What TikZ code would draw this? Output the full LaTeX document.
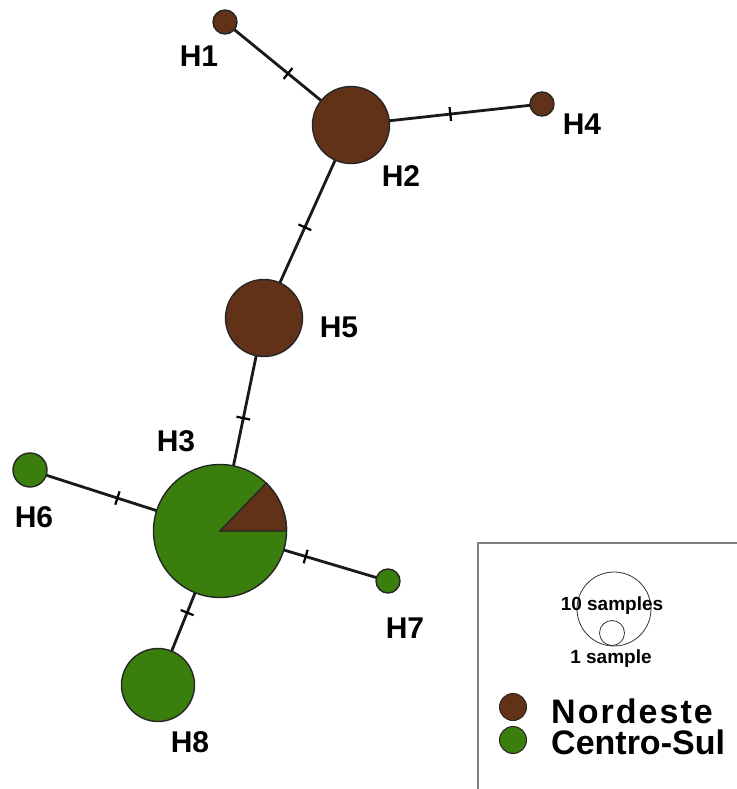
\documentclass[tikz,border=0pt]{standalone}
\usepackage{fontspec}
\setmainfont{Liberation Sans}
\usetikzlibrary{backgrounds}
\definecolor{nordeste}{RGB}{97,50,24}
\definecolor{centrosul}{RGB}{58,126,14}
\definecolor{framegray}{RGB}{128,128,128}
\tikzset{
  hap/.style={circle, draw=black!85, line width=1.4pt, inner sep=0pt, minimum size=#1},
  ne/.style={fill=nordeste},
  cs/.style={fill=centrosul},
  link/.style={line width=2.8pt, black!90},
  mutation/.style={sloped, draw=black, line width=2.2pt, inner sep=0pt,
                   minimum width=0pt, minimum height=14pt, outer sep=0pt},
  hlabel/.style={font=\bfseries\fontsize{30}{30}\selectfont, inner sep=0pt},
  legtext/.style={font=\bfseries\fontsize{34}{34}\selectfont, inner sep=0pt, anchor=west},
  smalltext/.style={font=\bfseries\fontsize{19}{19}\selectfont, inner sep=0pt}
}
\begin{document}
\begin{tikzpicture}[x=1pt, y=-1pt]
\useasboundingbox (0,0) rectangle (736,789);

% haplotype circles
\node[hap=24pt, ne] (H1) at (225,22) {};
\node[hap=77pt, ne] (H2) at (351,125) {};
\node[hap=24pt, ne] (H4) at (542,104) {};
\node[hap=77pt, ne] (H5) at (264,318) {};
\node[hap=133pt, cs] (H3) at (220,531) {};
\node[hap=34pt, cs] (H6) at (30,470) {};
\node[hap=24pt, cs] (H7) at (388,581) {};
\node[hap=73pt, cs] (H8) at (158,685) {};

% Nordeste share of H3 (y axis points down, so the wedge opens at negative angles)
\filldraw[fill=nordeste, draw=black!85, line width=1.4pt]
  (H3.center) -- ++(0:66.5) arc[start angle=0, end angle=-46, radius=66.5] -- cycle;

% network links with one mutation step each
\begin{scope}[on background layer]
\draw[link] (H1.center) -- node[mutation, pos=0.5] {} (H2.center);
\draw[link] (H2.center) -- node[mutation, pos=0.52] {} (H4.center);
\draw[link] (H2.center) -- node[mutation, pos=0.53] {} (H5.center);
\draw[link] (H5.center) -- node[mutation, pos=0.47] {} (H3.center);
\draw[link] (H3.center) -- node[mutation, pos=0.54] {} (H6.center);
\draw[link] (H3.center) -- node[mutation, pos=0.51] {} (H7.center);
\draw[link] (H3.center) -- node[mutation, pos=0.53] {} (H8.center);
\end{scope}

% haplotype labels
\node[hlabel] (L1) at (199,56) {H1};
\node[hlabel] (L2) at (401,176) {H2};
\node[hlabel] (L4) at (582,124) {H4};
\node[hlabel] (L5) at (339,327) {H5};
\node[hlabel] (L3) at (176,441) {H3};
\node[hlabel] (L6) at (34,517) {H6};
\node[hlabel] (L7) at (405,628) {H7};
\node[hlabel] (L8) at (190,742) {H8};

% legend frame
\draw[framegray, line width=2pt] (478,800) -- (478,543) -- (745,543);

% size scale
\node[circle, draw=black!80, line width=0.8pt, minimum size=74pt, inner sep=0pt] (S10) at (614,609) {};
\node[circle, draw=black!80, line width=0.8pt, minimum size=25pt, inner sep=0pt] (S1) at (612,633) {};
\node[smalltext] (T10) at (612,606) {10 samples};
\node[smalltext] (T1) at (611,659) {1 sample};

% region key
\node[hap=27pt, ne, line width=1pt] (KN) at (513,707) {};
\node[hap=27pt, cs, line width=1pt] (KC) at (513,740) {};
\node[legtext] (TN) at (551,711) {\addfontfeature{LetterSpace=6}Nordeste};
\node[legtext] (TC) at (551,742) {Centro-Sul};
\end{tikzpicture}
\end{document}
